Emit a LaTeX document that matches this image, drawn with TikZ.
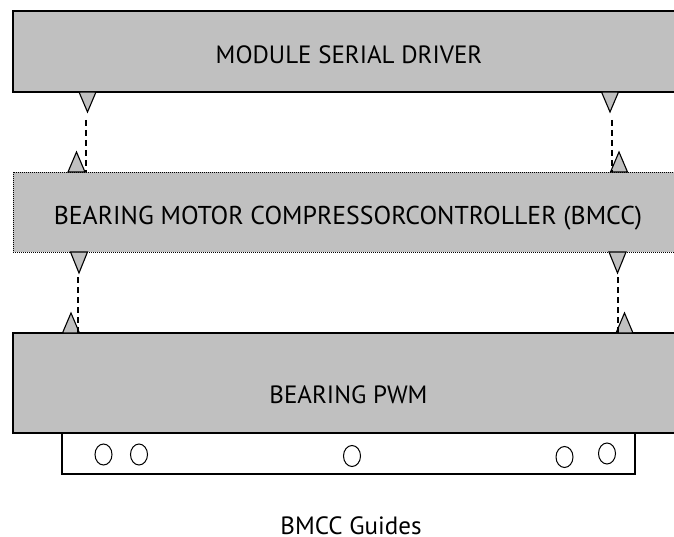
\documentclass[tikz,border=0pt]{standalone}
\usepackage{fontspec}
\setmainfont{PT Sans}
\usetikzlibrary{shapes.geometric}
\definecolor{boxgray}{HTML}{C0C0C0}
\begin{document}
\begin{tikzpicture}[x=1pt,y=-1pt,
  box/.style={draw, fill=boxgray, inner sep=0pt, outer sep=0pt, anchor=north west},
  lbl/.style={anchor=base, inner sep=0pt, font=\fontsize{25}{28}\selectfont},
  tri/.style={draw, fill=boxgray, line width=1.1pt, line join=miter},
  link/.style={draw, line width=1.2pt, dash pattern=on 6pt off 4pt},
  hole/.style={draw, ellipse, line width=1pt, minimum width=17pt, minimum height=21pt, inner sep=0pt}
]
\useasboundingbox (0,0) rectangle (674,537);
\clip (0,0) rectangle (674,537);

% boxes
\node[box, line width=1.4pt, minimum width=672pt, minimum height=81pt] (msd) at (13,11) {};
\node[box, line width=0.8pt, dash pattern=on 1pt off 1pt, minimum width=672pt, minimum height=80pt] (bmcc) at (13,172) {};
\node[box, fill=white, line width=1.2pt, minimum width=573pt, minimum height=41pt] (guides) at (62,433) {};
\node[box, line width=1.3pt, minimum width=672pt, minimum height=100pt] (pwm) at (13,333) {};

% labels
\node[lbl] (tmsd) at (349,64) {MODULE SERIAL DRIVER};
\node[lbl, font=\fontsize{25.8}{28}\selectfont] (tbmcc) at (348,225) {BEARING MOTOR COMPRESSORCONTROLLER (BMCC)};
\node[lbl] (tpwm) at (348.5,403) {BEARING PWM};
\node[lbl] (tcap) at (351,534.5) {BMCC Guides};

% triangles: top box bottom (down)
\coordinate (aTL) at (87.5,112);
\coordinate (aTR) at (610,112);
\draw[tri] (79,92) -- (aTL) -- (96,92) -- cycle;
\draw[tri] (601.5,92) -- (aTR) -- (618.5,92) -- cycle;
% middle box top (up)
\coordinate (bTL) at (76.5,152);
\coordinate (bTR) at (619,152);
\draw[tri] (68,172) -- (bTL) -- (85,172) -- cycle;
\draw[tri] (610.5,172) -- (bTR) -- (627.5,172) -- cycle;
% middle box bottom (down)
\coordinate (cBL) at (79,273);
\coordinate (cBR) at (617.5,273);
\draw[tri] (70.5,252) -- (cBL) -- (87.5,252) -- cycle;
\draw[tri] (609,252) -- (cBR) -- (626,252) -- cycle;
% pwm top (up)
\coordinate (dBL) at (71,313);
\coordinate (dBR) at (624.5,313);
\draw[tri] (62.5,333) -- (dBL) -- (79.5,333) -- cycle;
\draw[tri] (616,333) -- (dBR) -- (633,333) -- cycle;

% dashed links
\coordinate (lTL) at (86,120);
\coordinate (lTR) at (612,120);
\coordinate (lBL) at (78,277);
\coordinate (lBR) at (618,277);
\draw[link] (lTL) -- (lTL |- bmcc.north);
\draw[link] (lTR) -- (lTR |- bmcc.north);
\draw[link] (lBL) -- (lBL |- pwm.north);
\draw[link] (lBR) -- (lBR |- pwm.north);

% guide holes
\node[hole] (h1) at (103.5,454.5) {};
\node[hole] (h2) at (139,454.5) {};
\node[hole] (h3) at (352,456) {};
\node[hole] (h4) at (564.5,457) {};
\node[hole] (h5) at (607,453.5) {};
\end{tikzpicture}
\end{document}
